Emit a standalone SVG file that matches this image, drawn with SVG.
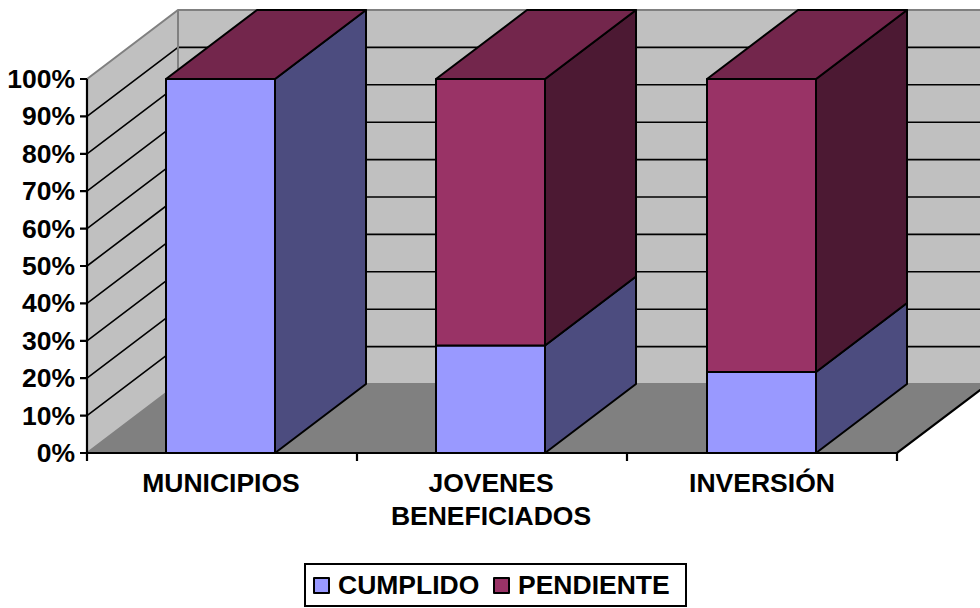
<svg xmlns="http://www.w3.org/2000/svg" width="980" height="608" viewBox="0 0 980 608">
<style>
.wall{fill:#c0c0c0;stroke:none}
.floor{fill:#808080;stroke:none}
.edge{stroke:#808080;stroke-width:2;fill:none}
.grid{stroke:#000;stroke-width:1.6;fill:none}
.ax{stroke:#000;stroke-width:2.2;fill:none}
.f{stroke:#000;stroke-width:2;stroke-linejoin:round}
.cf{fill:#9999ff}.cs{fill:#4c4c7f}
.pf{fill:#993366}.ps{fill:#4c1933}.pt{fill:#73264c}
text{font-family:"Liberation Sans",Arial,sans-serif;font-weight:bold;font-size:26.5px;fill:#000}
.yl{text-anchor:end}
.cl{text-anchor:middle}
</style>
<rect width="980" height="608" fill="#fff"/>
<g id="walls">
<polygon class="wall" points="178,10 980,10 980,384 178,384"/>
<polygon class="wall" points="87,79 178,10 178,384 87,453"/>
<polygon class="floor" points="87,453 178,384 988,384 897,453"/>
<g class="grid">
<path d="M178,47.4H980M178,84.8H980M178,122.2H980M178,159.6H980M178,197H980M178,234.4H980M178,271.8H980M178,309.2H980M178,346.6H980"/>
<path d="M87,415.6L178,346.6M87,378.2L178,309.2M87,340.8L178,271.8M87,303.4L178,234.4M87,266L178,197M87,228.6L178,159.6M87,191.2L178,122.2M87,153.8L178,84.8M87,116.4L178,47.4"/>
</g>
<path class="edge" d="M87,79L178,10H980M178,10V384H980M87,453L178,384"/>
</g>
<g id="axes">
<path class="ax" d="M87,79V453H897L988,384"/>
<path class="ax" d="M80,79H87M80,116.4H87M80,153.8H87M80,191.2H87M80,228.6H87M80,266H87M80,303.4H87M80,340.8H87M80,378.2H87M80,415.6H87M80,453H87"/>
<path class="ax" d="M87,453V461M357,453V461M627,453V461M897,453V461"/>
</g>
<g id="yaxis-labels">
<text class="yl" x="75" y="88">100%</text>
<text class="yl" x="75" y="125.4">90%</text>
<text class="yl" x="75" y="162.8">80%</text>
<text class="yl" x="75" y="200.2">70%</text>
<text class="yl" x="75" y="237.6">60%</text>
<text class="yl" x="75" y="275">50%</text>
<text class="yl" x="75" y="312.4">40%</text>
<text class="yl" x="75" y="349.8">30%</text>
<text class="yl" x="75" y="387.2">20%</text>
<text class="yl" x="75" y="424.6">10%</text>
<text class="yl" x="75" y="462">0%</text>
</g>
<g id="bar-municipios">
<polygon class="f cs" points="275,453 366,384 366,10 275,79"/>
<polygon class="f pt" points="166,79 257,10 366,10 275,79"/>
<rect class="f cf" x="166" y="79" width="109" height="374"/>
</g>
<g id="bar-jovenes">
<polygon class="f cs" points="545,453 636,384 636,276.5 545,345.5"/>
<polygon class="f ps" points="545,345.5 636,276.5 636,10 545,79"/>
<polygon class="f pt" points="436,79 527,10 636,10 545,79"/>
<rect class="f cf" x="436" y="345.5" width="109" height="107.5"/>
<rect class="f pf" x="436" y="79" width="109" height="266.5"/>
</g>
<g id="bar-inversion">
<polygon class="f cs" points="816,453 907,384 907,303 816,372"/>
<polygon class="f ps" points="816,372 907,303 907,10 816,79"/>
<polygon class="f pt" points="707,79 798,10 907,10 816,79"/>
<rect class="f cf" x="707" y="372" width="109" height="81"/>
<rect class="f pf" x="707" y="79" width="109" height="293"/>
</g>
<g id="category-labels">
<text class="cl" x="221" y="492">MUNICIPIOS</text>
<text class="cl" x="491" y="492">JOVENES</text>
<text class="cl" x="491" y="525">BENEFICIADOS</text>
<text class="cl" x="762" y="492">INVERSIÓN</text>
</g>
<g id="legend">
<rect x="305" y="564" width="381" height="42" fill="#fff" stroke="#000" stroke-width="2"/>
<rect class="f cf" x="314" y="578" width="15" height="15" stroke-width="1.6"/>
<text x="338" y="594">CUMPLIDO</text>
<rect class="f pf" x="494" y="578" width="15" height="15" stroke-width="1.6"/>
<text x="518" y="594">PENDIENTE</text>
</g>
</svg>
